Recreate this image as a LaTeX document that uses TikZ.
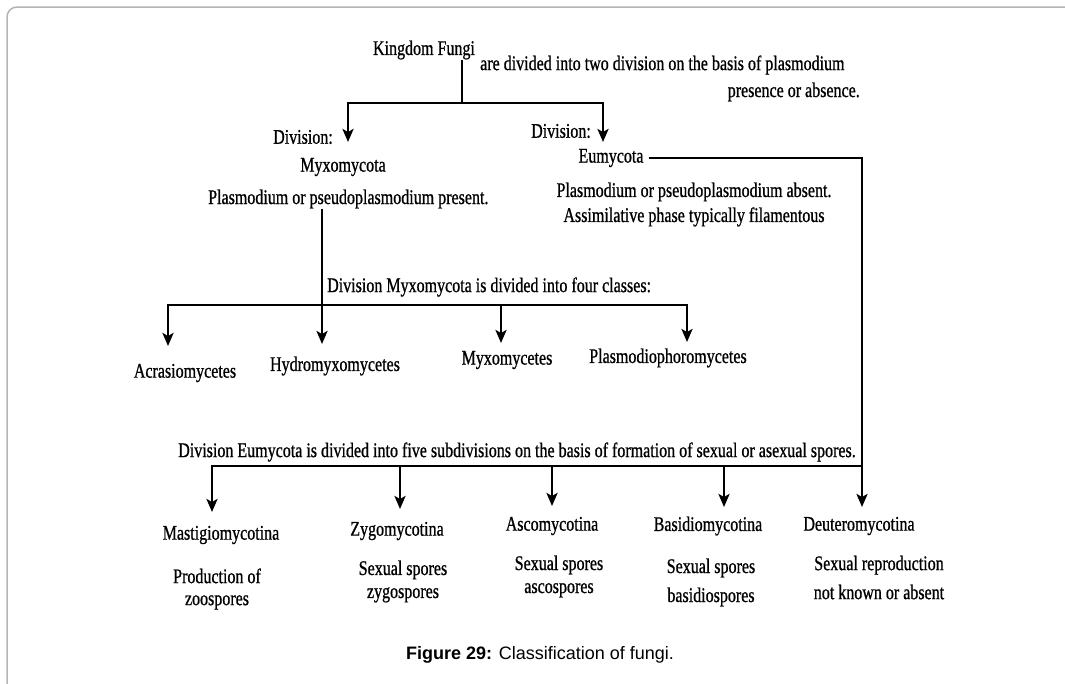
\documentclass[tikz,border=0pt]{standalone}
\usepackage{fontspec}
\setmainfont{Liberation Serif}[FakeStretch=0.77,FakeBold=0.8]
\newfontfamily\capfont{Liberation Sans}
\usetikzlibrary{arrows.meta}
\definecolor{framegray}{RGB}{180,180,180}
\begin{document}
\begin{tikzpicture}[x=1pt,y=-1pt,
  txt/.style={inner sep=0pt, font=\fontsize{20.8}{22}\selectfont},
  txttwo/.style={inner sep=0pt, align=center, font=\fontsize{20.8}{#1}\selectfont},
  ln/.style={line width=2.6pt},
  arr/.style={ln, -{Stealth[length=13pt,width=11pt,inset=3pt]}},
]
\useasboundingbox (0,0) rectangle (1065,683);
\draw[color=framegray, line width=1.5pt, rounded corners=10pt] (7,720) -- (7,7) -- (1100,7);

% top level
\node[txt] (kf) at (424,50) {Kingdom Fungi};
\node[txt, anchor=west] (introa) at (480,65) {are divided into two division on the basis of plasmodium};
\node[txt, anchor=east] (introb) at (860,92) {presence or absence.};
\node[txt] (divL) at (303,137) {Division:};
\node[txt] (divR) at (561,131) {Division:};
\node[txt] (myxo) at (343,167) {Myxomycota};
\node[txt, anchor=west] (myxod) at (208,199) {Plasmodium or pseudoplasmodium present.};
\node[txt] (eum) at (611,158) {Eumycota};
\node[txttwo=25] (eumd) at (694,204.5) {Plasmodium or pseudoplasmodium absent.\\Assimilative phase typically filamentous};

% myxomycota classes
\node[txt, anchor=west] (myxocl) at (327,287) {Division Myxomycota is divided into four classes:};
\node[txt] (acr) at (185,373) {Acrasiomycetes};
\node[txt] (hyd) at (335,366) {Hydromyxomycetes};
\node[txt] (myc) at (507,360) {Myxomycetes};
\node[txt] (pla) at (668,358) {Plasmodiophoromycetes};

% eumycota subdivisions
\node[txt] (eumcl) at (517,452) {Division Eumycota is divided into five subdivisions on the basis of formation of sexual or asexual spores.};
\node[txt] (mas) at (221,535) {Mastigiomycotina};
\node[txt] (zyg) at (397,531) {Zygomycotina};
\node[txt] (asc) at (552,526) {Ascomycotina};
\node[txt] (bas) at (708,526) {Basidiomycotina};
\node[txt] (deu) at (859,526) {Deuteromycotina};
\node[txttwo=22] (masd) at (217,589) {Production of\\zoospores};
\node[txttwo=23] (zygd) at (403,581.5) {Sexual spores\\zygospores};
\node[txttwo=23] (ascd) at (559,576.5) {Sexual spores\\ascospores};
\node[txttwo=29] (basd) at (711,582.5) {Sexual spores\\basidiospores};
\node[txttwo=29] (deud) at (879,577.5) {Sexual reproduction\\not known or absent};

% caption
\node[inner sep=0pt, font=\capfont\fontsize{18}{20}\selectfont] (cap) at (540,655) {\textbf{Figure 29:} Classification of fungi.};

% connectors: kingdom
\coordinate (j1) at (462,103);
\coordinate (tL) at (348,142);
\coordinate (tR) at (603,142);
\draw[ln] (j1 |- kf.south) -- (j1);
\draw[arr] (j1) -| (tL);
\draw[arr] (j1) -| (tR);

% connectors: myxomycota
\coordinate (j2) at (322,305);
\coordinate (tAc) at (168,346);
\coordinate (tHy) at (322,344);
\coordinate (tMy) at (501,343);
\coordinate (tPl) at (687,342);
\draw[arr] (j2 |- myxod.south) -- (tHy);
\draw[arr] (j2) -| (tAc);
\draw[arr] (j2) -| (tPl);
\draw[arr] (tMy |- j2) -- (tMy);

% connectors: eumycota
\coordinate (j3) at (862,466);
\coordinate (tDe) at (862,507);
\coordinate (tMa) at (212,512);
\coordinate (tZy) at (400,509);
\coordinate (tAs) at (552,506);
\coordinate (tBa) at (724,507);
\draw[arr] ([xshift=5pt]eum.east) -| (tDe);
\draw[arr] (j3) -| (tMa);
\draw[arr] (tZy |- j3) -- (tZy);
\draw[arr] (tAs |- j3) -- (tAs);
\draw[arr] (tBa |- j3) -- (tBa);
\end{tikzpicture}
\end{document}
